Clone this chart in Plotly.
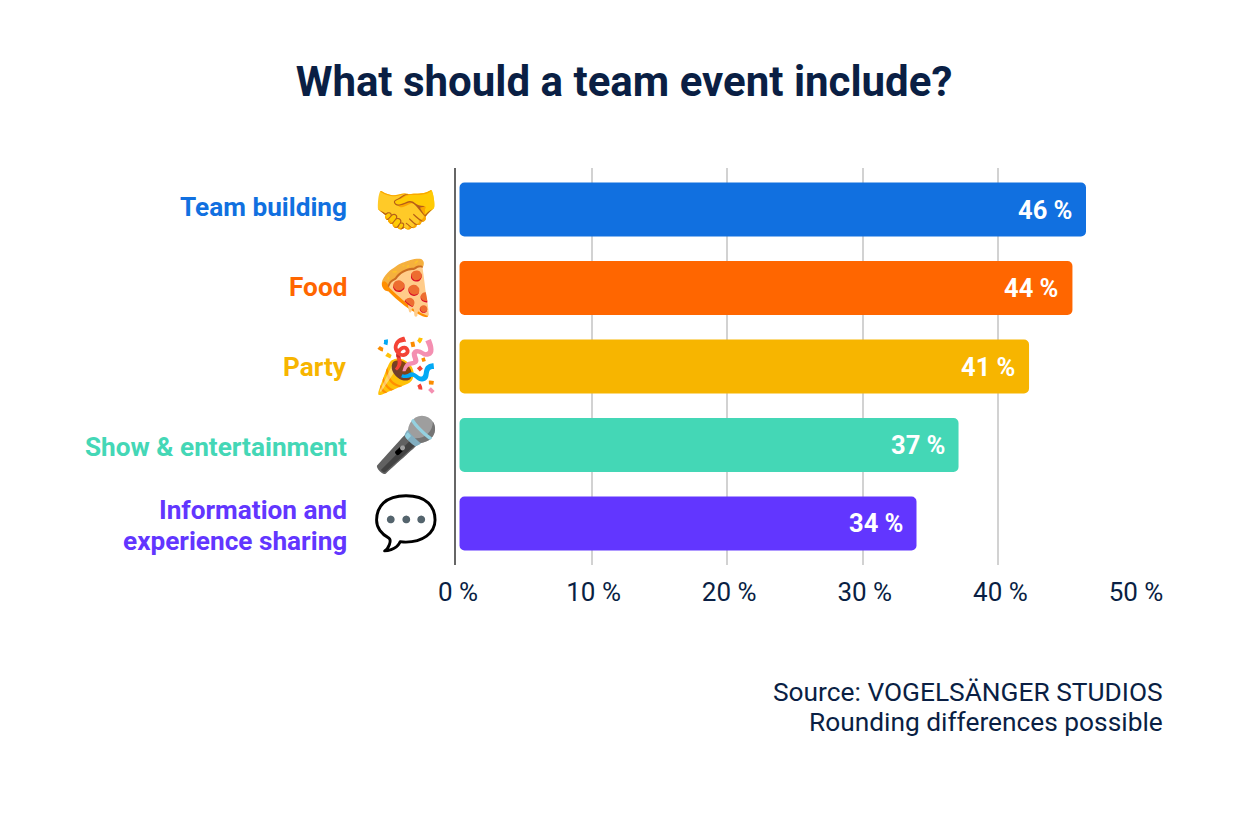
import plotly.graph_objects as go

categories = ["Team building", "Food", "Party", "Show & entertainment", "Information and<br>experience sharing"]
values = [46.2, 45.2, 42.0, 36.8, 33.7]
value_labels = ["46 %", "44 %", "41 %", "37 %", "34 %"]
colors = ["#1170e0", "#ff6600", "#f7b500", "#44d7b6", "#6236ff"]
emojis = ["🤝", "🍕", "🎉", "🎤", "💬"]
tick_vals = [0, 10, 20, 30, 40, 50]
tick_text = ["0 %", "10 %", "20 %", "30 %", "40 %", "50 %"]

# bars start a few px right of the axis line in the original
bar_base = 0.26
navy = "#0a1f44"
# category labels don't sit exactly on the bar centres
label_nudge = [3, 1, 0, -2, -2]

fig = go.Figure(go.Bar(
    x=values, y=categories, base=bar_base, orientation="h", marker_color=colors, marker_cornerradius=5,
    marker_line_width=0, textposition="none", width=0.688, showlegend=False))

# page has an 8px body margin, so figure is 16px smaller than the window
fig.update_layout(
    width=1232, height=802, paper_bgcolor="white", plot_bgcolor="white",
    margin=dict(l=447.5, r=106, t=160, b=245), font=dict(family="Roboto", color=navy),
    title=dict(text="<b>What should a team event include?</b>", x=0.5, xanchor="center",
               y=0.909, yanchor="middle", font=dict(size=42, color=navy)),
    xaxis=dict(range=[0, 50], tickvals=tick_vals, ticktext=tick_text, showgrid=True, gridcolor="#d2d2d2",
               gridwidth=1.5, zeroline=False, tickfont=dict(size=26), ticks="", showline=False,
               ticklabelshift=2, ticklabelstandoff=9),
    yaxis=dict(range=[4.53, -0.53], showticklabels=False, showgrid=False, showline=True,
               linecolor="#666666", linewidth=1.5, ticks=""),
)

for cat, val, lab, col, em, nudge in zip(categories, values, value_labels, colors, emojis, label_nudge):
    # value inside bar end
    fig.add_annotation(x=bar_base + val, xref="x", xanchor="right", xshift=-12, y=cat, yref="y", text="<b>%s</b>" % lab,
                       showarrow=False, font=dict(size=25.5, color="white"))
    # category label, one annotation per line so the line gap can be set
    lines = cat.split("<br>")
    for i, line in enumerate(lines):
        shift = (len(lines) - 1) * 15.5 - i * 31 + nudge
        fig.add_annotation(x=0, xref="paper", xanchor="right", xshift=-107.5, y=cat, yref="y", yshift=shift,
                           text="<b>%s</b>" % line, showarrow=False, font=dict(size=26.2, color=col))
    fig.add_annotation(x=0, xref="paper", xanchor="center", xshift=-50.5, y=cat, yref="y", text=em,
                       showarrow=False, font=dict(size=53))

fig.add_annotation(x=1.0, xref="paper", xanchor="right", xshift=31, y=-0.32, yref="paper", yanchor="middle",
                   text="Source: VOGELSÄNGER STUDIOS", showarrow=False, font=dict(size=26.3, color=navy))
fig.add_annotation(x=1.0, xref="paper", xanchor="right", xshift=31, y=-0.395, yref="paper", yanchor="middle",
                   text="Rounding differences possible", showarrow=False, font=dict(size=26.3, color=navy))

fig.write_html("out.html")
